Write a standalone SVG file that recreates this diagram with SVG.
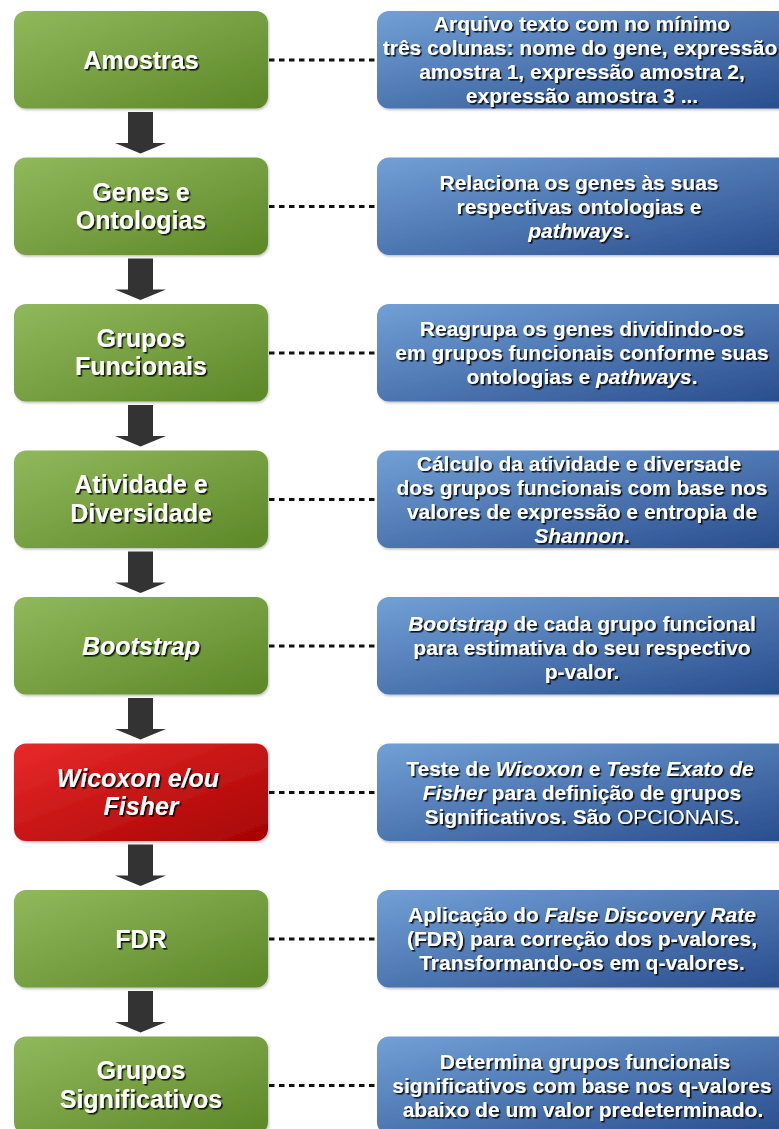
<svg xmlns="http://www.w3.org/2000/svg" width="779" height="1129" viewBox="0 0 779 1129">
<defs>
<linearGradient id="gG" x1="0" y1="0" x2="1" y2="1"><stop offset="0" stop-color="#90b95c"/><stop offset="1" stop-color="#5c8727"/></linearGradient>
<linearGradient id="gR" x1="0" y1="0" x2="1" y2="1"><stop offset="0" stop-color="#ea2a2a"/><stop offset="1" stop-color="#a50303"/></linearGradient>
<linearGradient id="gB" x1="0" y1="0" x2="1" y2="1"><stop offset="0" stop-color="#72a0d6"/><stop offset="1" stop-color="#284c8c"/></linearGradient>
<filter id="ts" x="-10%" y="-20%" width="120%" height="150%"><feDropShadow dx="1.6" dy="1.6" stdDeviation="0.4" flood-color="#000" flood-opacity="0.85"/></filter>
<filter id="bs" x="-5%" y="-5%" width="115%" height="120%"><feDropShadow dx="1" dy="1.5" stdDeviation="1.2" flood-color="#000" flood-opacity="0.25"/></filter>
<path id="arrow" d="M128 0h25v31h13l-25.5 10.5l-25.5 -10.5h13z"/>
</defs>
<style>
.gb{fill:url(#gG);filter:url(#bs)}
.rb{fill:url(#gR);filter:url(#bs)}
.bb{fill:url(#gB);filter:url(#bs)}
.gt{font-family:"Liberation Sans",Arial,sans-serif;font-weight:bold;font-size:25px;fill:#fff;text-anchor:middle;filter:url(#ts)}
.bt{font-family:"Liberation Sans",Arial,sans-serif;font-weight:bold;font-size:21px;fill:#fff;text-anchor:middle;filter:url(#ts)}
.i{font-style:italic}
.n{font-weight:normal}
.dash{stroke:#111;stroke-width:2.8;stroke-dasharray:5.5 4.5;fill:none}
.arr{fill:#333}
</style>
<rect width="779" height="1129" fill="#fff"/>
<g id="connectors">
<line class="dash" x1="269" y1="60" x2="377" y2="60"/>
<line class="dash" x1="269" y1="206.5" x2="377" y2="206.5"/>
<line class="dash" x1="269" y1="353" x2="377" y2="353"/>
<line class="dash" x1="269" y1="499.5" x2="377" y2="499.5"/>
<line class="dash" x1="269" y1="646" x2="377" y2="646"/>
<line class="dash" x1="269" y1="792.5" x2="377" y2="792.5"/>
<line class="dash" x1="269" y1="939" x2="377" y2="939"/>
<line class="dash" x1="269" y1="1085.5" x2="377" y2="1085.5"/>
<use class="arr" href="#arrow" y="112"/>
<use class="arr" href="#arrow" y="258.5"/>
<use class="arr" href="#arrow" y="405"/>
<use class="arr" href="#arrow" y="551.5"/>
<use class="arr" href="#arrow" y="698"/>
<use class="arr" href="#arrow" y="844.5"/>
<use class="arr" href="#arrow" y="991"/>
</g>
<g id="n1"><rect class="gb" x="14" y="11" width="254" height="97.5" rx="12"/><text class="gt" x="141" y="69">Amostras</text></g>
<g id="d1"><rect class="bb" x="377" y="11" width="420" height="97.5" rx="12"/>
<text class="bt" x="582"><tspan x="582" y="31">Arquivo texto com no mínimo</tspan><tspan x="580" y="55">três colunas: nome do gene, expressão</tspan><tspan x="582" y="79">amostra 1, expressão amostra 2,</tspan><tspan x="582" y="103">expressão amostra 3 ...</tspan></text></g>

<g id="n2"><rect class="gb" x="14" y="157.5" width="254" height="97.5" rx="12"/><text class="gt" x="141"><tspan x="141" y="201">Genes e</tspan><tspan x="141" y="229">Ontologias</tspan></text></g>
<g id="d2"><rect class="bb" x="377" y="157.5" width="420" height="97.5" rx="12"/>
<text class="bt"><tspan x="579" y="190">Relaciona os genes às suas</tspan><tspan x="579" y="214">respectivas ontologias e</tspan><tspan x="579" y="238"><tspan class="i">pathways</tspan>.</tspan></text></g>

<g id="n3"><rect class="gb" x="14" y="304" width="254" height="97.5" rx="12"/><text class="gt"><tspan x="141" y="347">Grupos</tspan><tspan x="141" y="375">Funcionais</tspan></text></g>
<g id="d3"><rect class="bb" x="377" y="304" width="420" height="97.5" rx="12"/>
<text class="bt"><tspan x="582" y="336">Reagrupa os genes dividindo-os</tspan><tspan x="582" y="360">em grupos funcionais conforme suas</tspan><tspan x="582" y="384">ontologias e <tspan class="i">pathways</tspan>.</tspan></text></g>

<g id="n4"><rect class="gb" x="14" y="450.5" width="254" height="97.5" rx="12"/><text class="gt"><tspan x="141" y="493">Atividade e</tspan><tspan x="141" y="522">Diversidade</tspan></text></g>
<g id="d4"><rect class="bb" x="377" y="450.5" width="420" height="97.5" rx="12"/>
<text class="bt"><tspan x="579" y="471">Cálculo da atividade e diversade</tspan><tspan x="582" y="495">dos grupos funcionais com base nos</tspan><tspan x="582" y="519">valores de expressão e entropia de</tspan><tspan x="582" y="543"><tspan class="i">Shannon</tspan>.</tspan></text></g>

<g id="n5"><rect class="gb" x="14" y="597" width="254" height="97.5" rx="12"/><text class="gt i" x="141" y="655">Bootstrap</text></g>
<g id="d5"><rect class="bb" x="377" y="597" width="420" height="97.5" rx="12"/>
<text class="bt"><tspan x="582" y="631"><tspan class="i">Bootstrap</tspan> de cada grupo funcional</tspan><tspan x="582" y="655">para estimativa do seu respectivo</tspan><tspan x="582" y="679">p-valor.</tspan></text></g>

<g id="n6"><rect class="rb" x="14" y="743.5" width="254" height="97.5" rx="12"/><text class="gt i"><tspan x="138" y="787">Wicoxon e/ou</tspan><tspan x="141" y="815">Fisher</tspan></text></g>
<g id="d6"><rect class="bb" x="377" y="743.5" width="420" height="97.5" rx="12"/>
<text class="bt"><tspan x="580" y="776">Teste de <tspan class="i">Wicoxon</tspan> e <tspan class="i">Teste Exato de</tspan></tspan><tspan x="582" y="800"><tspan class="i">Fisher</tspan> para definição de grupos</tspan><tspan x="582" y="824">Significativos. São <tspan class="n">OPCIONAIS</tspan>.</tspan></text></g>

<g id="n7"><rect class="gb" x="14" y="890" width="254" height="97.5" rx="12"/><text class="gt" x="141" y="948">FDR</text></g>
<g id="d7"><rect class="bb" x="377" y="890" width="420" height="97.5" rx="12"/>
<text class="bt"><tspan x="582" y="922">Aplicação do <tspan class="i">False Discovery Rate</tspan></tspan><tspan x="582" y="946">(FDR) para correção dos p-valores,</tspan><tspan x="582" y="970">Transformando-os em q-valores.</tspan></text></g>

<g id="n8"><rect class="gb" x="14" y="1036.5" width="254" height="97.5" rx="12"/><text class="gt"><tspan x="141" y="1079">Grupos</tspan><tspan x="141" y="1108">Significativos</tspan></text></g>
<g id="d8"><rect class="bb" x="377" y="1036.5" width="420" height="97.5" rx="12"/>
<text class="bt"><tspan x="585" y="1069">Determina grupos funcionais</tspan><tspan x="582" y="1093">significativos com base nos q-valores</tspan><tspan x="583" y="1117">abaixo de um valor predeterminado.</tspan></text></g>
</svg>
